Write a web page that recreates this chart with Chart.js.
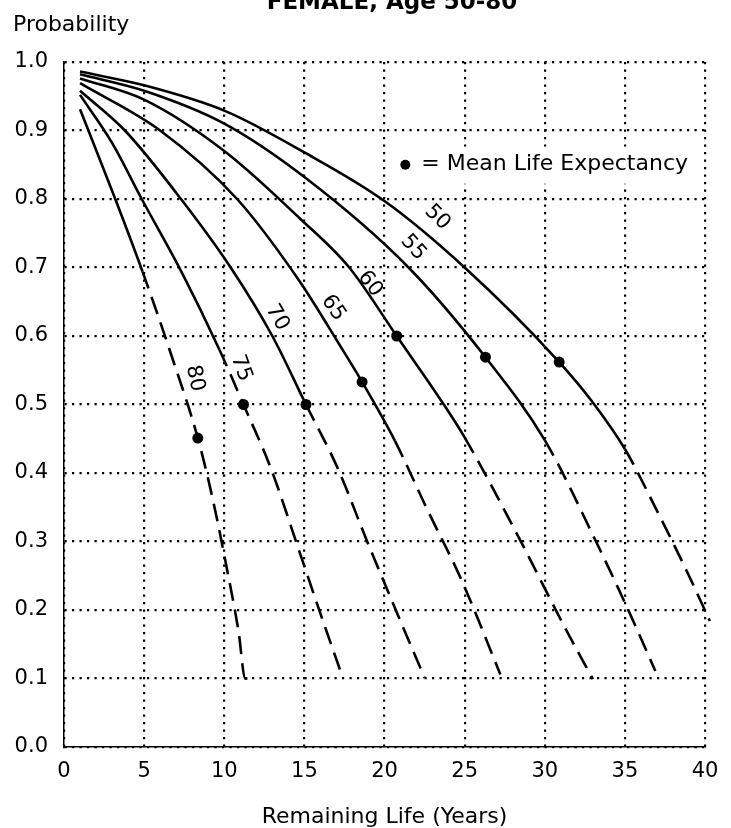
<!DOCTYPE html>
<html>
<head>
<meta charset="utf-8">
<title>Survival curves, female age 50-80</title>
<script src="https://cdn.jsdelivr.net/npm/chart.js@4.4.1/dist/chart.umd.min.js"></script>
<style>
  html, body { margin: 0; padding: 0; background: #fff; }
  #wrap { width: 731px; height: 828px; position: relative; }
</style>
</head>
<body>
<div id="wrap"><canvas id="chart"></canvas></div>
<script>
// ages of the curves, outermost first
const ages = [50, 55, 60, 65, 70, 75, 80];

// remaining life (years) / probability of surviving
const years50 = [1, 5, 10, 15, 20, 25, 30.9, 33, 35, 37, 39, 40.3];
const prob50  = [0.986, 0.966, 0.929, 0.868, 0.797, 0.7, 0.562, 0.503, 0.435, 0.345, 0.25, 0.184];

const years55 = [1, 5, 10, 15, 21.5, 26.3, 30, 33.2, 35.25, 36.9];
const prob55  = [0.982, 0.958, 0.91, 0.832, 0.7, 0.569, 0.448, 0.3, 0.198, 0.111];

const years60 = [1, 5, 10, 14.7, 17.8, 20.76, 23.7, 25, 28.4, 31.13, 33];
const prob60  = [0.976, 0.945, 0.87, 0.772, 0.7, 0.6, 0.5, 0.452, 0.305, 0.18, 0.099];

const years65 = [1, 6, 10.8, 14.7, 17.25, 18.6, 20.65, 22.6, 24.78, 27.23];
const prob65  = [0.969, 0.9, 0.8, 0.68, 0.585, 0.533, 0.447, 0.35, 0.245, 0.106];

const years70 = [1, 3.8, 7.3, 10.4, 13, 15.1, 17.06, 18.92, 20.65, 22.5];
const prob70  = [0.958, 0.9, 0.8, 0.7, 0.6, 0.5, 0.408, 0.3, 0.203, 0.101];

const years75 = [1, 3, 4.85, 7.3, 9.7, 11.2, 12.89, 14.68, 15.88, 17.25];
const prob75  = [0.952, 0.882, 0.8, 0.695, 0.58, 0.5, 0.408, 0.286, 0.203, 0.111];

const years80 = [1, 3.2, 4.9, 6.8, 8.35, 9.3, 10.15, 10.89, 11.31, 11.7];
const prob80  = [0.931, 0.8, 0.694, 0.565, 0.451, 0.36, 0.262, 0.169, 0.1, 0.1];

// where each curve turns dashed
const dashFrom = [35, 30, 25, 20.65, 15.1, 9.7, 4.9];

// mean life expectancy dots
const meanYears = [30.9, 26.3, 20.76, 18.6, 15.1, 11.2, 8.35];
const meanProb  = [0.562, 0.569, 0.6, 0.533, 0.5, 0.5, 0.451];

// where the age numbers sit
const labelYears = [23.3, 21.8, 19.1, 16.8, 13.3, 11.06, 8.16];
const labelProb  = [0.773, 0.729, 0.676, 0.641, 0.627, 0.553, 0.538];

const FONT = "'DejaVu Sans', sans-serif";
Chart.defaults.font.family = FONT;
Chart.defaults.color = '#000';

const curves = [[years50, prob50], [years55, prob55], [years60, prob60], [years65, prob65],
                [years70, prob70], [years75, prob75], [years80, prob80]];

const datasets = curves.map(([xs, ys], i) => ({
  label: 'Age ' + ages[i],
  data: xs.map((x, j) => ({x: x, y: ys[j]})),
  showLine: true,
  borderColor: '#000',
  borderWidth: 2.6,
  pointRadius: 0,
  cubicInterpolationMode: 'monotone',
  clip: false,
  segment: {
    borderDash: ctx => ctx.p0.parsed.x >= dashFrom[i] - 1e-9 ? [18, 9] : undefined
  }
}));

datasets.push({
  label: 'Mean Life Expectancy',
  data: meanYears.map((x, j) => ({x: x, y: meanProb[j]})),
  showLine: false,
  pointRadius: 5.5,
  pointBackgroundColor: '#000',
  pointBorderWidth: 0
});

const labelAngles = [45, 48, 52, 56, 60, 70, 78];

const annotations = {
  id: 'annotations',
  beforeDatasetsDraw(chart) {
    const {ctx, scales: {x, y}} = chart;
    // legend box over the grid
    const lx = x.getPixelForValue(21.3), ly = y.getPixelForValue(0.85);
    ctx.save();
    ctx.fillStyle = '#fff';
    ctx.fillRect(lx - 10, ly - 18, 300, 37);
    ctx.fillStyle = '#000';
    ctx.beginPath();
    ctx.arc(lx, ly, 5, 0, Math.PI * 2);
    ctx.fill();
    ctx.font = '22px ' + FONT;
    ctx.textBaseline = 'middle';
    ctx.fillText('= Mean Life Expectancy', lx + 16, ly);
    ctx.restore();
  },
  afterDatasetsDraw(chart) {
    const {ctx, scales: {x, y}} = chart;
    ctx.save();
    ctx.fillStyle = '#000';
    ctx.font = '21px ' + FONT;
    ctx.textAlign = 'center';
    ctx.textBaseline = 'middle';
    ages.forEach((a, i) => {
      ctx.save();
      ctx.translate(x.getPixelForValue(labelYears[i]), y.getPixelForValue(labelProb[i]));
      ctx.rotate(labelAngles[i] * Math.PI / 180);
      ctx.fillText(String(a), 0, 0);
      ctx.restore();
    });
    ctx.restore();
  },
  afterDraw(chart) {
    const {ctx} = chart;
    ctx.save();
    ctx.fillStyle = '#000';
    ctx.font = 'bold 23px ' + FONT;
    ctx.textAlign = 'center';
    ctx.textBaseline = 'alphabetic';
    ctx.fillText('FEMALE, Age 50-80', 392, 9);
    ctx.font = '22px ' + FONT;
    ctx.textAlign = 'left';
    ctx.fillText('Probability', 13, 31);
    ctx.restore();
  }
};

const gridOpts = {color: '#000', lineWidth: 2.2, drawTicks: false};
const borderOpts = {display: true, color: '#000', width: 1.5, dash: [2.2, 5.3]};

new Chart('chart', {
  type: 'scatter',
  data: {datasets: datasets},
  options: {
    responsive: true,
    maintainAspectRatio: false,
    animation: false,
    layout: {padding: {top: 62, right: 26, bottom: 0, left: 0}},
    plugins: {legend: {display: false}, tooltip: {enabled: false}},
    scales: {
      x: {
        type: 'linear',
        min: 0,
        max: 40,
        ticks: {stepSize: 5, color: '#000', font: {size: 21}, padding: 12},
        grid: gridOpts,
        border: borderOpts,
        title: {display: true, text: 'Remaining Life (Years)', color: '#000',
                font: {size: 22, lineHeight: 1}, padding: {top: 0, bottom: 0}},
        afterFit: s => { s.height = 81; }
      },
      y: {
        min: 0,
        max: 1,
        ticks: {stepSize: 0.1, color: '#000', font: {size: 21}, padding: 16,
                callback: v => v.toFixed(1)},
        grid: gridOpts,
        border: borderOpts,
        afterFit: s => { s.width = 64; }
      }
    }
  },
  plugins: [annotations]
});
</script>
</body>
</html>
